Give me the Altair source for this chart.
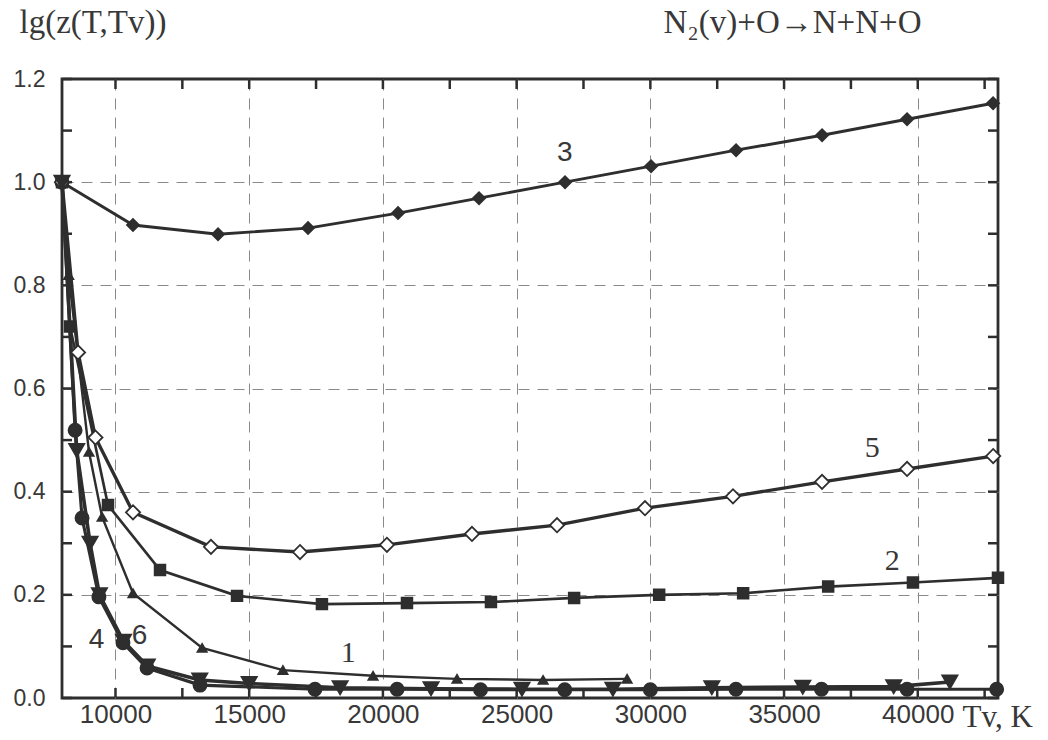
import altair as alt
import pandas as pd

# ---- data (Tv in K, lg z) ----
C1_TV = [8000, 8250, 9010, 9500, 10655, 13240, 16260, 19630, 22770, 25990, 29130]
C1_LG = [1.000, 0.820, 0.477, 0.351, 0.203, 0.097, 0.054, 0.043, 0.037, 0.035, 0.037]

C2_TV = [8000, 8300, 9720, 11665, 14545, 17720, 20900, 24040, 27150, 30330, 33470, 36650, 39820, 43000]
C2_LG = [1.000, 0.720, 0.374, 0.248, 0.198, 0.182, 0.184, 0.186, 0.194, 0.200, 0.203, 0.216, 0.224, 0.233]

C3_TV = [8000, 10655, 13834, 17200, 20565, 23594, 26810, 30027, 33206, 36422, 39600, 42816]
C3_LG = [1.000, 0.917, 0.899, 0.911, 0.940, 0.969, 1.000, 1.031, 1.062, 1.091, 1.122, 1.153]

C4_TV = [8000, 8490, 8750, 9380, 10280, 11180, 13160, 17460, 20530, 23650, 26800, 30000, 33200, 36400, 39600, 42950]
C4_LG = [1.000, 0.519, 0.349, 0.196, 0.107, 0.058, 0.025, 0.017, 0.017, 0.016, 0.016, 0.016, 0.017, 0.017, 0.017, 0.017]

C5_TV = [8000, 8600, 9250, 10655, 13570, 16900, 20150, 23330, 26510, 29800, 33090, 36420, 39600, 42820]
C5_LG = [1.000, 0.670, 0.505, 0.360, 0.293, 0.283, 0.297, 0.318, 0.335, 0.368, 0.391, 0.419, 0.444, 0.469]

C6_TV = [8000, 8550, 9050, 9400, 10300, 11190, 13150, 15000, 18400, 21800, 25200, 28600, 32300, 35700, 39100, 41200]
C6_LG = [1.000, 0.480, 0.300, 0.200, 0.110, 0.062, 0.035, 0.028, 0.020, 0.018, 0.017, 0.017, 0.020, 0.021, 0.022, 0.031]

CURVES = ["1", "2", "3", "4", "5", "6"]
SHAPES = ["triangle-up", "square", "diamond", "circle", "diamond", "triangle-down"]
SIZES = [85, 230, 160, 160, 140, 140]
FILLS = ["#2e2e2e", "#2e2e2e", "#2e2e2e", "#2e2e2e", "#ffffff", "#2e2e2e"]
WIDTHS = [2.4, 3.6, 3.3, 3.8, 2.6, 3.8]

# curve labels
LBL_SERIF = ["1", "5", "2"]
LBL_SERIF_TV = [18700, 38300, 39050]
LBL_SERIF_LG = [0.087, 0.484, 0.265]
LBL_SANS = ["3", "4", "6"]
LBL_SANS_TV = [26800, 9290, 10900]
LBL_SANS_LG = [1.056, 0.112, 0.120]

X_TICKS = [10000, 12500, 15000, 17500, 20000, 22500, 25000, 27500, 30000,
           32500, 35000, 37500, 40000, 42500]
Y_TICKS = [0.0, 0.1, 0.2, 0.3, 0.4, 0.5, 0.6, 0.7, 0.8, 0.9, 1.0, 1.1, 1.2]

rows = []
for name, xs_, ys_ in [("1", C1_TV, C1_LG), ("2", C2_TV, C2_LG), ("3", C3_TV, C3_LG),
                       ("4", C4_TV, C4_LG), ("5", C5_TV, C5_LG), ("6", C6_TV, C6_LG)]:
    for x, y in zip(xs_, ys_):
        rows.append({"curve": name, "Tv": x, "lgz": y})
df = pd.DataFrame(rows)

lbl_serif = pd.DataFrame({"t": LBL_SERIF, "Tv": LBL_SERIF_TV, "lgz": LBL_SERIF_LG})
lbl_sans = pd.DataFrame({"t": LBL_SANS, "Tv": LBL_SANS_TV, "lgz": LBL_SANS_LG})
xt = pd.DataFrame({"Tv": X_TICKS})
yt = pd.DataFrame({"lgz": Y_TICKS})

W, H = 936, 619
TL = 10  # inward tick length
EDGE = 0.5  # tick start (a literal 0 is treated as "unset")
INK = "#2e2e2e"
TXT = "#383838"
xs = alt.Scale(domain=[8000, 43000], nice=False, zero=False)
ys = alt.Scale(domain=[0, 1.2], nice=False)

x_bottom = alt.Axis(
    orient="bottom", values=X_TICKS, domain=False, ticks=False, tickSize=0,
    labelExpr="datum.value % 5000 == 0 ? format(datum.value, 'd') : ''",
    labelFont="Liberation Sans", labelFontSize=26, labelColor=TXT, labelPadding=3,
    grid=True, gridColor="#8a8a8a", gridWidth=1, gridDash=[11, 8],
    gridOpacity={"condition": {"test": "datum.value % 5000 == 0", "value": 1}, "value": 0},
    title="Tv, K", titleFont="Liberation Serif", titleFontSize=31, titleFontWeight="normal",
    titleColor=TXT, titleAlign="left", titleBaseline="middle", titleX=900, titleY=19,
)
y_left = alt.Axis(
    orient="left", values=Y_TICKS, domain=False, ticks=False, tickSize=0,
    labelExpr="round(datum.value * 10) % 2 == 0 ? format(datum.value, '.1f') : ''",
    labelFont="Liberation Sans", labelFontSize=23, labelColor=TXT, labelPadding=17,
    grid=True, gridColor="#8a8a8a", gridWidth=1, gridDash=[11, 8],
    gridOpacity={"condition": {"test": "round(datum.value * 10) % 2 == 0 && datum.value > 0.05 && datum.value < 1.15", "value": 1}, "value": 0},
    title="lg(z(T,Tv))", titleFont="Liberation Serif", titleFontSize=33, titleFontWeight="normal",
    titleColor=TXT, titleAngle=0, titleAlign="left", titleBaseline="middle",
    titleX=-43, titleY=-57,
)
x_top = alt.Axis(
    orient="top", values=X_TICKS, domain=False, labels=False, grid=False,
    ticks=False, tickSize=0,
    title="N₂(v)+O→N+N+O", titleFont="Liberation Serif", titleFontSize=33,
    titleFontWeight="normal", titleColor=TXT, titleAlign="left", titleBaseline="middle",
    titleX=601, titleY=-57,
)

lines = alt.Chart(df).mark_line(color=INK).encode(
    x=alt.X("Tv:Q", scale=xs, axis=x_bottom),
    y=alt.Y("lgz:Q", scale=ys, axis=y_left),
    detail="curve:N",
    strokeWidth=alt.StrokeWidth("curve:N", scale=alt.Scale(domain=CURVES, range=WIDTHS), legend=None),
)

points = alt.Chart(df).mark_point(opacity=1, strokeWidth=1.8, fillOpacity=1).encode(
    x=alt.X("Tv:Q", scale=xs, axis=x_top),
    y=alt.Y("lgz:Q", scale=ys, axis=None),
    shape=alt.Shape("curve:N", scale=alt.Scale(domain=CURVES, range=SHAPES), legend=None),
    size=alt.Size("curve:N", scale=alt.Scale(domain=CURVES, range=SIZES), legend=None),
    fill=alt.Fill("curve:N", scale=alt.Scale(domain=CURVES, range=FILLS), legend=None),
    stroke=alt.value(INK),
)

# inward tick marks on all four sides, placed by the scales
tick_b = alt.Chart(xt).mark_rule(color=INK, strokeWidth=2.5).encode(
    x=alt.X("Tv:Q", scale=xs, axis=None), y=alt.value(H - TL), y2=alt.value(H - EDGE))
tick_t = alt.Chart(xt).mark_rule(color=INK, strokeWidth=2.5).encode(
    x=alt.X("Tv:Q", scale=xs, axis=None), y=alt.value(EDGE), y2=alt.value(TL))
tick_l = alt.Chart(yt).mark_rule(color=INK, strokeWidth=2.5).encode(
    y=alt.Y("lgz:Q", scale=ys, axis=None), x=alt.value(EDGE), x2=alt.value(TL))
tick_r = alt.Chart(yt).mark_rule(color=INK, strokeWidth=2.5).encode(
    y=alt.Y("lgz:Q", scale=ys, axis=None), x=alt.value(W - TL), x2=alt.value(W - EDGE))

t_serif = alt.Chart(lbl_serif).mark_text(font="Liberation Serif", fontSize=30, color=TXT).encode(
    x=alt.X("Tv:Q", scale=xs, axis=None),
    y=alt.Y("lgz:Q", scale=ys, axis=None),
    text="t:N",
)
t_sans = alt.Chart(lbl_sans).mark_text(font="Liberation Sans", fontSize=28, color=TXT).encode(
    x=alt.X("Tv:Q", scale=xs, axis=None),
    y=alt.Y("lgz:Q", scale=ys, axis=None),
    text="t:N",
)

chart = alt.layer(lines, points, tick_b, tick_t, tick_l, tick_r, t_serif, t_sans).resolve_axis(
    x="independent", y="independent"
).properties(
    width=W, height=H,
    padding={"left": 62, "top": 79, "right": 50, "bottom": 42},
    autosize=alt.AutoSizeParams(type="none"),
    background="white",
).configure_view(stroke=INK, strokeWidth=2.8)

chart.save("out.html", embed_options={"renderer": "svg", "actions": False})
